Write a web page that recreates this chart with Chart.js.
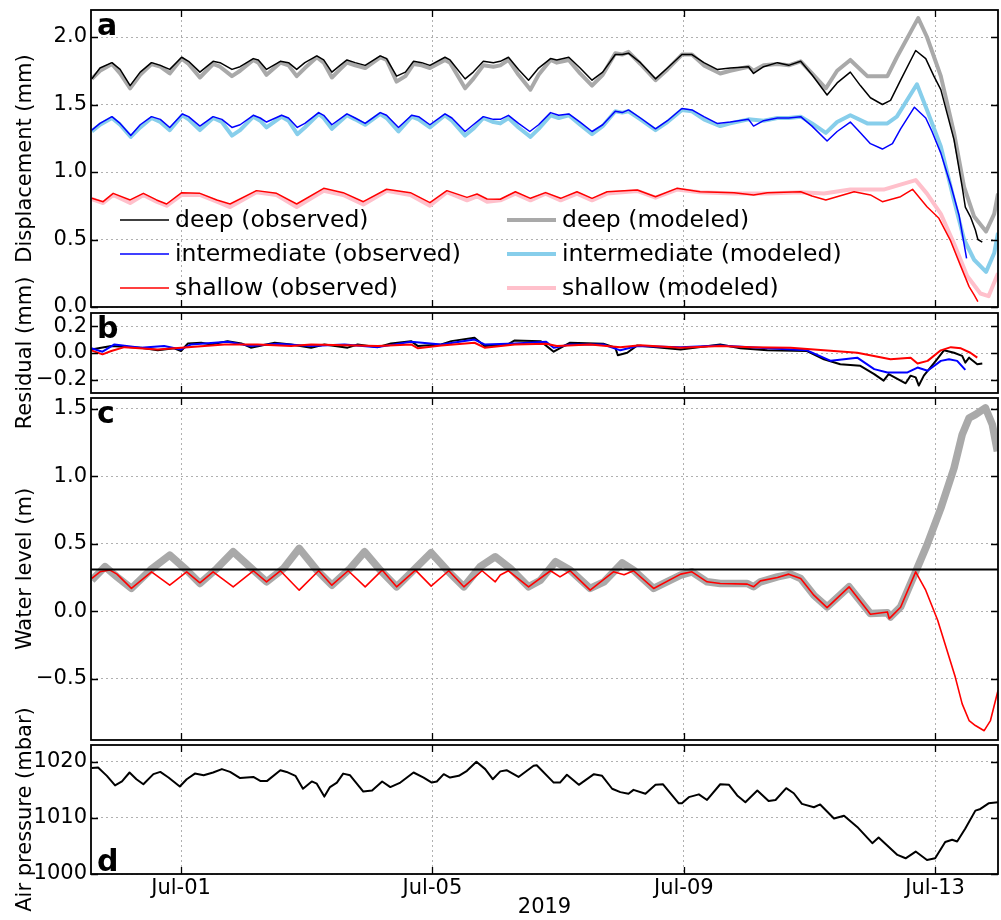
<!DOCTYPE html>
<html><head><meta charset="utf-8">
<script src="https://cdn.jsdelivr.net/npm/chart.js@4.4.1/dist/chart.umd.min.js"></script>
<style>
html,body{margin:0;padding:0;background:#fff;}
#wrap{position:relative;width:1001px;height:920px;background:#fff;}
canvas{position:absolute;left:0;top:0;}
</style></head>
<body><div id="wrap">
<canvas id="pa" width="1001" height="920"></canvas>
<canvas id="pb" width="1001" height="920"></canvas>
<canvas id="pc" width="1001" height="920"></canvas>
<canvas id="pd" width="1001" height="920"></canvas>
</div>
<script>
// ---------------- DATA (x = days since 2019-07-01 00:00) ----------------
const X_MIN = -1.433, X_MAX = 13.0;
const xTickVals = [0, 4, 8, 12];
const xTickLabels = ['Jul-01', 'Jul-05', 'Jul-09', 'Jul-13'];
const xTitle = '2019';

const dispTicks = [0, 0.5, 1, 1.5, 2];
const dispTickLabels = ['0.0', '0.5', '1.0', '1.5', '2.0'];
const resTicks = [-0.2, 0, 0.2];
const resTickLabels = ['\u22120.2', '0.0', '0.2'];
const wlTicks = [-0.5, 0, 0.5, 1, 1.5];
const wlTickLabels = ['\u22120.5', '0.0', '0.5', '1.0', '1.5'];
const apTicks = [1000, 1010, 1020];
const apTickLabels = ['1000', '1010', '1020'];

const yTitles = ['Displacement (mm)', 'Residual (mm)', 'Water level (m)', 'Air pressure (mbar)'];
const panelLetters = ['a', 'b', 'c', 'd'];
const seriesNames = ['deep (observed)', 'intermediate (observed)', 'shallow (observed)',
                     'deep (modeled)', 'intermediate (modeled)', 'shallow (modeled)'];

const deepObs = [[-1.42,1.69],[-1.29,1.77],[-1.10,1.81],[-0.97,1.76],[-0.81,1.64],[-0.65,1.74],[-0.47,1.81],[-0.33,1.79],[-0.18,1.76],[0.01,1.85],[0.12,1.82],[0.30,1.74],[0.51,1.82],[0.62,1.81],[0.81,1.76],[0.94,1.78],[1.15,1.84],[1.23,1.83],[1.36,1.76],[1.58,1.82],[1.71,1.81],[1.84,1.76],[1.97,1.81],[2.16,1.86],[2.27,1.83],[2.40,1.74],[2.53,1.79],[2.64,1.83],[2.77,1.81],[2.93,1.79],[3.17,1.86],[3.27,1.84],[3.43,1.71],[3.57,1.74],[3.70,1.82],[3.83,1.81],[3.96,1.79],[4.20,1.85],[4.28,1.83],[4.52,1.69],[4.65,1.74],[4.81,1.82],[4.97,1.81],[5.08,1.82],[5.21,1.85],[5.37,1.76],[5.53,1.68],[5.69,1.77],[5.88,1.84],[5.98,1.83],[6.17,1.85],[6.35,1.77],[6.54,1.68],[6.71,1.74],[6.91,1.87],[7.02,1.87],[7.12,1.88],[7.31,1.81],[7.55,1.69],[7.74,1.77],[7.97,1.87],[8.13,1.87],[8.32,1.81],[8.53,1.76],[8.74,1.77],[9.03,1.78],[9.11,1.73],[9.27,1.78],[9.49,1.81],[9.67,1.79],[9.86,1.82],[10.04,1.72],[10.28,1.57],[10.44,1.66],[10.65,1.74],[10.81,1.64],[10.97,1.55],[11.16,1.50],[11.29,1.53],[11.45,1.68],[11.69,1.90],[11.85,1.84],[11.98,1.71],[12.09,1.61],[12.30,1.24],[12.43,0.89],[12.48,0.74],[12.56,0.67],[12.64,0.57],[12.68,0.50],[12.75,0.48]];
const deepMod = [[-1.42,1.69],[-1.29,1.75],[-1.10,1.80],[-0.97,1.73],[-0.81,1.62],[-0.65,1.72],[-0.47,1.80],[-0.33,1.78],[-0.18,1.73],[0.01,1.84],[0.12,1.80],[0.30,1.70],[0.51,1.80],[0.62,1.78],[0.81,1.71],[0.94,1.75],[1.15,1.83],[1.23,1.81],[1.36,1.72],[1.58,1.81],[1.71,1.79],[1.84,1.71],[1.97,1.77],[2.16,1.85],[2.27,1.81],[2.40,1.70],[2.53,1.76],[2.64,1.81],[2.77,1.79],[2.93,1.77],[3.17,1.85],[3.27,1.83],[3.43,1.67],[3.57,1.71],[3.70,1.80],[3.83,1.79],[3.96,1.77],[4.20,1.83],[4.28,1.81],[4.52,1.62],[4.65,1.69],[4.81,1.79],[4.97,1.78],[5.08,1.79],[5.21,1.83],[5.37,1.72],[5.56,1.61],[5.69,1.72],[5.88,1.83],[5.98,1.81],[6.17,1.83],[6.35,1.73],[6.54,1.64],[6.71,1.72],[6.91,1.88],[7.02,1.87],[7.12,1.89],[7.31,1.80],[7.55,1.68],[7.74,1.76],[7.97,1.87],[8.13,1.87],[8.32,1.79],[8.58,1.73],[8.74,1.75],[9.03,1.78],[9.11,1.75],[9.27,1.79],[9.49,1.80],[9.67,1.79],[9.86,1.82],[10.04,1.73],[10.26,1.62],[10.44,1.75],[10.65,1.83],[10.92,1.71],[11.24,1.71],[11.39,1.85],[11.73,2.14],[11.87,2.00],[12.09,1.71],[12.30,1.29],[12.46,0.89],[12.62,0.67],[12.81,0.56],[12.94,0.69],[13.0,0.84]];
const intObs = [[-1.42,1.31],[-1.29,1.36],[-1.10,1.41],[-0.97,1.36],[-0.80,1.27],[-0.65,1.35],[-0.47,1.41],[-0.33,1.39],[-0.18,1.33],[0.02,1.43],[0.12,1.41],[0.30,1.34],[0.51,1.41],[0.65,1.39],[0.81,1.33],[0.94,1.35],[1.15,1.42],[1.26,1.40],[1.36,1.37],[1.60,1.42],[1.71,1.40],[1.85,1.33],[1.97,1.36],[2.19,1.44],[2.27,1.42],[2.40,1.35],[2.64,1.43],[2.77,1.40],[2.93,1.36],[3.17,1.44],[3.27,1.42],[3.46,1.33],[3.67,1.42],[3.78,1.41],[3.96,1.35],[4.20,1.43],[4.31,1.40],[4.52,1.30],[4.65,1.35],[4.81,1.41],[4.97,1.39],[5.08,1.39],[5.21,1.42],[5.37,1.36],[5.55,1.30],[5.69,1.35],[5.88,1.44],[6.01,1.42],[6.17,1.43],[6.35,1.37],[6.54,1.30],[6.71,1.35],[6.91,1.45],[7.02,1.44],[7.12,1.46],[7.31,1.40],[7.55,1.32],[7.74,1.38],[7.97,1.47],[8.13,1.46],[8.32,1.41],[8.53,1.36],[8.74,1.37],[9.03,1.39],[9.11,1.34],[9.27,1.38],[9.49,1.40],[9.67,1.40],[9.86,1.41],[10.04,1.34],[10.28,1.23],[10.44,1.30],[10.65,1.37],[10.81,1.29],[10.97,1.21],[11.16,1.17],[11.32,1.21],[11.45,1.32],[11.67,1.48],[11.85,1.40],[11.95,1.30],[12.09,1.14],[12.25,0.90],[12.38,0.68],[12.50,0.36]];
const intMod = [[-1.42,1.30],[-1.29,1.35],[-1.10,1.40],[-0.97,1.35],[-0.80,1.26],[-0.65,1.33],[-0.47,1.40],[-0.33,1.37],[-0.18,1.31],[0.02,1.42],[0.12,1.39],[0.30,1.31],[0.51,1.40],[0.65,1.37],[0.81,1.27],[0.94,1.31],[1.15,1.41],[1.26,1.38],[1.36,1.33],[1.60,1.41],[1.71,1.38],[1.85,1.28],[1.97,1.33],[2.19,1.43],[2.27,1.40],[2.40,1.32],[2.64,1.42],[2.77,1.39],[2.93,1.35],[3.17,1.43],[3.27,1.40],[3.46,1.30],[3.67,1.41],[3.78,1.39],[3.96,1.33],[4.20,1.42],[4.31,1.38],[4.52,1.27],[4.65,1.32],[4.81,1.40],[4.97,1.37],[5.08,1.36],[5.21,1.40],[5.37,1.33],[5.56,1.26],[5.69,1.32],[5.88,1.42],[6.01,1.40],[6.17,1.42],[6.35,1.35],[6.54,1.28],[6.71,1.34],[6.91,1.45],[7.02,1.44],[7.12,1.45],[7.31,1.39],[7.55,1.31],[7.74,1.37],[7.97,1.46],[8.13,1.45],[8.32,1.39],[8.58,1.34],[8.74,1.36],[9.03,1.39],[9.27,1.38],[9.49,1.40],[9.67,1.40],[9.86,1.41],[10.04,1.36],[10.26,1.29],[10.44,1.37],[10.65,1.42],[10.92,1.36],[11.24,1.36],[11.39,1.41],[11.71,1.65],[11.87,1.46],[12.09,1.19],[12.30,0.79],[12.46,0.50],[12.62,0.35],[12.81,0.26],[12.94,0.40],[13.0,0.55]];
const shObs = [[-1.42,0.805],[-1.24,0.780],[-1.08,0.842],[-0.81,0.793],[-0.60,0.842],[-0.39,0.793],[-0.23,0.763],[0.01,0.847],[0.30,0.842],[0.57,0.793],[0.78,0.763],[1.20,0.862],[1.52,0.842],[1.84,0.763],[2.27,0.879],[2.58,0.847],[2.90,0.780],[3.27,0.872],[3.65,0.847],[3.96,0.773],[4.23,0.862],[4.55,0.812],[4.71,0.837],[4.87,0.800],[5.08,0.798],[5.32,0.854],[5.56,0.805],[5.80,0.847],[6.04,0.805],[6.30,0.854],[6.54,0.805],[6.78,0.854],[7.26,0.867],[7.55,0.817],[7.89,0.879],[8.26,0.854],[8.80,0.847],[9.11,0.830],[9.33,0.847],[9.86,0.854],[10.04,0.822],[10.26,0.793],[10.71,0.854],[10.97,0.830],[11.16,0.780],[11.45,0.817],[11.64,0.872],[11.87,0.743],[12.06,0.657],[12.24,0.496],[12.41,0.299],[12.54,0.151],[12.62,0.089],[12.68,0.04]];
const shMod = [[-1.42,0.80],[-1.24,0.77],[-1.08,0.83],[-0.81,0.77],[-0.60,0.83],[-0.39,0.78],[-0.23,0.75],[0.01,0.83],[0.30,0.83],[0.57,0.78],[0.78,0.74],[1.20,0.85],[1.52,0.83],[1.84,0.74],[2.27,0.86],[2.58,0.83],[2.90,0.76],[3.27,0.86],[3.65,0.83],[3.96,0.75],[4.23,0.85],[4.55,0.79],[4.71,0.82],[4.87,0.78],[5.08,0.79],[5.32,0.84],[5.56,0.79],[5.80,0.84],[6.04,0.79],[6.30,0.84],[6.54,0.79],[6.78,0.84],[7.26,0.86],[7.55,0.81],[7.89,0.87],[8.26,0.85],[8.80,0.84],[9.33,0.84],[9.86,0.85],[10.23,0.84],[10.65,0.87],[11.18,0.87],[11.69,0.94],[11.87,0.84],[12.09,0.69],[12.30,0.47],[12.51,0.23],[12.72,0.10],[12.85,0.08],[13.0,0.25]];

const resDeep = [[-1.43,0.027],[-1.11,0.052],[-0.64,0.040],[-0.37,0.020],[-0.11,0.035],[0.0,0.015],[0.11,0.072],[0.32,0.077],[0.48,0.064],[0.74,0.089],[0.96,0.072],[1.11,0.040],[1.49,0.077],[1.75,0.064],[2.07,0.040],[2.28,0.064],[2.65,0.040],[2.81,0.064],[3.13,0.044],[3.34,0.072],[3.66,0.089],[3.77,0.052],[4.14,0.064],[4.30,0.089],[4.67,0.114],[4.83,0.052],[5.20,0.064],[5.31,0.094],[5.72,0.089],[5.93,0.010],[6.19,0.077],[6.72,0.069],[6.91,0.040],[6.95,-0.017],[7.10,0.002],[7.26,0.057],[7.95,0.027],[8.58,0.064],[8.90,0.035],[9.33,0.020],[9.96,0.015],[10.23,-0.047],[10.49,-0.084],[10.81,-0.096],[11.03,-0.158],[11.18,-0.207],[11.26,-0.158],[11.53,-0.227],[11.61,-0.170],[11.69,-0.183],[11.74,-0.244],[11.82,-0.170],[12.01,-0.059],[12.14,0.020],[12.30,0.002],[12.43,-0.022],[12.48,-0.072],[12.54,-0.035],[12.67,-0.084],[12.75,-0.079]];
const resInt = [[-1.43,0.035],[-1.25,0.010],[-1.06,0.064],[-0.64,0.040],[-0.27,0.052],[0.0,0.027],[0.16,0.064],[0.74,0.084],[1.11,0.052],[1.54,0.069],[2.07,0.052],[2.60,0.064],[3.13,0.044],[3.66,0.084],[4.14,0.064],[4.67,0.101],[4.83,0.064],[5.31,0.072],[5.81,0.084],[5.93,0.040],[6.19,0.064],[6.72,0.064],[6.99,0.020],[7.26,0.052],[7.95,0.044],[8.58,0.057],[9.33,0.035],[9.96,0.020],[10.34,-0.059],[10.76,-0.035],[11.03,-0.121],[11.24,-0.146],[11.56,-0.146],[11.72,-0.109],[11.88,-0.133],[12.09,-0.059],[12.22,-0.047],[12.35,-0.059],[12.48,-0.126]];
const resSh = [[-1.43,0.020],[-1.25,-0.010],[-1.11,0.015],[-0.90,0.044],[-0.37,0.027],[0.11,0.044],[0.69,0.064],[1.22,0.064],[1.75,0.052],[2.07,0.064],[2.60,0.059],[3.13,0.052],[3.66,0.064],[3.77,0.035],[4.14,0.057],[4.67,0.077],[4.83,0.040],[5.31,0.064],[5.81,0.069],[5.98,0.052],[6.51,0.064],[6.99,0.044],[7.31,0.059],[7.95,0.040],[8.58,0.052],[9.06,0.044],[9.70,0.040],[10.23,0.020],[10.76,0.002],[11.29,-0.047],[11.61,-0.035],[11.72,-0.079],[11.88,-0.059],[12.09,0.020],[12.25,0.044],[12.41,0.035],[12.56,0.002],[12.67,-0.035]];

const wlModeled = [[-1.42,0.230],[-1.21,0.330],[-1.02,0.255],[-0.79,0.169],[-0.49,0.305],[-0.18,0.416],[0.09,0.305],[0.30,0.206],[0.57,0.317],[0.83,0.441],[1.15,0.305],[1.36,0.218],[1.63,0.317],[1.88,0.466],[2.16,0.305],[2.40,0.193],[2.69,0.317],[2.92,0.441],[3.17,0.305],[3.43,0.181],[3.70,0.305],[3.98,0.434],[4.23,0.305],[4.50,0.181],[4.76,0.330],[5.00,0.404],[5.24,0.317],[5.53,0.181],[5.72,0.230],[5.96,0.367],[6.19,0.305],[6.51,0.169],[6.73,0.218],[7.02,0.359],[7.20,0.305],[7.52,0.169],[7.73,0.218],[7.95,0.268],[8.13,0.292],[8.37,0.218],[8.58,0.206],[9.01,0.206],[9.11,0.181],[9.22,0.218],[9.49,0.255],[9.70,0.275],[9.86,0.243],[10.07,0.119],[10.28,0.032],[10.63,0.181],[10.97,-0.017],[11.24,-0.012],[11.29,-0.042],[11.45,0.032],[11.69,0.292],[11.87,0.491],[12.09,0.763],[12.30,1.061],[12.43,1.309],[12.54,1.432],[12.64,1.457],[12.80,1.507],[12.91,1.383],[12.99,1.185]];
const wlObserved = [[-1.42,0.243],[-1.29,0.292],[-1.13,0.305],[-1.02,0.275],[-0.79,0.169],[-0.47,0.292],[-0.18,0.193],[0.09,0.292],[0.30,0.211],[0.51,0.292],[0.83,0.181],[1.15,0.300],[1.36,0.218],[1.58,0.300],[1.88,0.156],[2.19,0.300],[2.40,0.193],[2.66,0.300],[2.93,0.181],[3.20,0.305],[3.43,0.181],[3.73,0.305],[3.98,0.186],[4.26,0.300],[4.50,0.181],[4.79,0.300],[5.00,0.218],[5.08,0.268],[5.21,0.300],[5.53,0.181],[5.88,0.300],[6.03,0.255],[6.19,0.300],[6.51,0.156],[6.88,0.292],[7.05,0.270],[7.20,0.300],[7.52,0.169],[7.95,0.275],[8.13,0.292],[8.37,0.218],[8.58,0.206],[9.01,0.201],[9.11,0.181],[9.22,0.225],[9.49,0.250],[9.67,0.275],[9.86,0.243],[10.07,0.119],[10.28,0.027],[10.63,0.181],[10.97,-0.022],[11.24,-0.005],[11.27,-0.055],[11.45,0.030],[11.69,0.292],[11.85,0.156],[12.04,-0.067],[12.14,-0.216],[12.32,-0.488],[12.43,-0.686],[12.54,-0.810],[12.64,-0.847],[12.78,-0.885],[12.88,-0.810],[13.0,-0.587]];
const wlReference = 0.31;

const airPressure = [[-1.42,1018.9],[-1.32,1019.0],[-1.18,1017.5],[-1.05,1015.8],[-0.94,1016.5],[-0.82,1018.1],[-0.71,1016.9],[-0.60,1016.0],[-0.44,1017.8],[-0.33,1018.2],[-0.20,1017.2],[-0.02,1015.6],[0.09,1016.9],[0.22,1017.9],[0.36,1017.6],[0.51,1018.1],[0.65,1018.7],[0.78,1018.2],[0.94,1017.1],[1.15,1017.3],[1.26,1016.6],[1.37,1016.6],[1.58,1018.5],[1.68,1018.2],[1.82,1017.5],[1.94,1015.2],[2.08,1016.5],[2.16,1016.1],[2.28,1013.8],[2.37,1015.5],[2.48,1016.3],[2.58,1017.9],[2.69,1017.6],[2.90,1014.7],[3.04,1014.9],[3.20,1016.5],[3.33,1015.5],[3.49,1016.3],[3.70,1018.1],[3.86,1017.2],[3.99,1016.3],[4.07,1016.5],[4.18,1017.8],[4.28,1017.2],[4.42,1017.5],[4.55,1018.4],[4.70,1020.0],[4.84,1018.7],[4.96,1016.9],[5.08,1018.3],[5.18,1018.5],[5.37,1017.3],[5.61,1019.3],[5.66,1019.4],[5.93,1016.3],[6.03,1016.3],[6.14,1017.7],[6.33,1015.9],[6.57,1017.8],[6.70,1017.5],[6.86,1015.2],[6.99,1014.6],[7.12,1014.3],[7.20,1015.0],[7.39,1014.3],[7.55,1015.9],[7.67,1016.0],[7.92,1012.6],[7.97,1012.6],[8.08,1013.7],[8.24,1014.2],[8.37,1013.2],[8.58,1016.0],[8.72,1015.9],[8.85,1014.0],[8.98,1012.8],[9.17,1014.9],[9.35,1013.0],[9.46,1013.2],[9.63,1015.3],[9.75,1014.4],[9.88,1012.5],[10.07,1011.9],[10.17,1012.4],[10.39,1009.9],[10.55,1010.4],[10.76,1008.4],[11.00,1005.5],[11.10,1006.5],[11.40,1003.4],[11.53,1002.8],[11.69,1004.0],[11.87,1002.5],[12.00,1002.8],[12.16,1005.7],[12.27,1006.1],[12.35,1005.8],[12.48,1008.1],[12.64,1011.3],[12.72,1011.6],[12.85,1012.6],[13.0,1012.8]];

// ---------------- STYLE ----------------
const FONT = '"DejaVu Sans", "Liberation Sans", sans-serif';
Chart.defaults.font.family = FONT;
Chart.defaults.font.size = 21;
Chart.defaults.color = '#000';
const GRID = '#b0b0b0';
const C = {deep:'#000000', inter:'#0000ff', shal:'#ff0000', deepM:'#a9a9a9', interM:'#87ceeb', shalM:'#ffc0cb'};

const pts = a => a.map(p => ({x: p[0], y: p[1]}));
// Chart.js paints the first dataset last (on top); "z" is used as the explicit order weight
const line = (data, color, width, z) => ({data: pts(data), borderColor: color, backgroundColor: color,
  borderWidth: width, pointRadius: 0, tension: 0, fill: false, borderJoinStyle: 'round', borderCapStyle: 'butt', order: z});

function decorFor(cfg) {
  return {
    id: 'decor',
    afterDraw(chart) {
      const ctx = chart.ctx;
      const {left, right, top, bottom} = chart.chartArea;
      const xs = chart.scales.x, ys = chart.scales.y;
      ctx.save();
      ctx.strokeStyle = '#000'; ctx.lineWidth = 1.3;
      ctx.beginPath();
      xs.ticks.forEach(t => { const p = Math.round(xs.getPixelForValue(t.value)) + 0.5;
        ctx.moveTo(p, top); ctx.lineTo(p, top + 7); ctx.moveTo(p, bottom); ctx.lineTo(p, bottom - 7); });
      ys.ticks.forEach(t => { const p = Math.round(ys.getPixelForValue(t.value)) + 0.5;
        ctx.moveTo(left, p); ctx.lineTo(left + 7, p); ctx.moveTo(right, p); ctx.lineTo(right - 7, p); });
      ctx.stroke();
      ctx.lineWidth = 1.8;
      ctx.strokeRect(left, top, right - left, bottom - top);
      ctx.fillStyle = '#000';
      ctx.font = 'bold 30px ' + FONT;
      ctx.textAlign = 'left'; ctx.textBaseline = 'alphabetic';
      ctx.fillText(cfg.letter, left + 6, cfg.letterBottom ? bottom - 3 : top + 25);
      ctx.font = '21px ' + FONT;
      ctx.translate(31, (top + bottom) / 2);
      ctx.rotate(-Math.PI / 2);
      ctx.textAlign = 'center';
      ctx.fillText(cfg.yTitle, 0, 0);
      ctx.restore();
      if (cfg.legend) {
        ctx.save();
        ctx.font = '23.5px ' + FONT;
        ctx.textBaseline = 'middle'; ctx.textAlign = 'left'; ctx.fillStyle = '#000';
        cfg.legend.forEach((it, i) => {
          const col = Math.floor(i / 3), row = i % 3;
          const lx = col === 0 ? left + 29 : left + 416;
          const ly = top + 210 + row * 34;
          ctx.strokeStyle = it.color; ctx.lineWidth = it.width;
          ctx.beginPath(); ctx.moveTo(lx, ly); ctx.lineTo(lx + 49, ly); ctx.stroke();
          ctx.fillText(it.label, lx + 55, ly + 1);
        });
        ctx.restore();
      }
    }
  };
}

function makePanel(id, cfg) {
  const showX = !!cfg.showX;
  return new Chart(document.getElementById(id), {
    type: 'line',
    data: {datasets: cfg.datasets},
    options: {
      responsive: false, animation: false, events: [],
      layout: {padding: {left: 0, right: 3, top: cfg.top, bottom: showX ? 920 - cfg.bottom - 46 : 920 - cfg.bottom}},
      plugins: {legend: {display: false}, tooltip: {enabled: false}},
      scales: {
        x: {type: 'linear', min: X_MIN, max: X_MAX,
          afterBuildTicks: s => { s.ticks = xTickVals.map(v => ({value: v})); },
          afterFit: s => { s.height = showX ? 46 : 0; s.paddingLeft = 0; s.paddingRight = 0; },
          ticks: {display: showX, autoSkip: false, maxRotation: 0, padding: 2, color: '#000',
                  font: {size: 21}, callback: (v, i) => xTickLabels[i]},
          grid: {color: GRID, lineWidth: 1, drawTicks: false},
          border: {display: false, dash: [2, 3]},
          title: {display: showX, text: xTitle, color: '#000', font: {size: 21}, padding: {top: 0, bottom: 0}}
        },
        y: {type: 'linear', min: cfg.ymin, max: cfg.ymax,
          afterBuildTicks: s => { s.ticks = cfg.yticks.map(v => ({value: v})); },
          afterFit: s => { s.width = 91; s.paddingTop = 0; s.paddingBottom = 0; },
          ticks: {autoSkip: false, padding: 4, color: '#000', font: {size: 21}, callback: (v, i) => cfg.ylabels[i]},
          grid: {color: GRID, lineWidth: 1, drawTicks: false},
          border: {display: false, dash: [2, 3]}
        }
      }
    },
    plugins: [decorFor(cfg)]
  });
}

// panel a : observed lines painted above the thick modeled lines
makePanel('pa', {
  top: 10, bottom: 307, ymin: 0, ymax: 2.2, yticks: dispTicks, ylabels: dispTickLabels,
  yTitle: yTitles[0], letter: panelLetters[0],
  datasets: [
    line(deepObs, C.deep, 1.5, 1), line(intObs, C.inter, 1.5, 1), line(shObs, C.shal, 1.5, 1),
    line(deepMod, C.deepM, 4, 2), line(intMod, C.interM, 4, 2), line(shMod, C.shalM, 4, 2)
  ],
  legend: [
    {label: seriesNames[0], color: C.deep, width: 1.5},
    {label: seriesNames[1], color: C.inter, width: 1.5},
    {label: seriesNames[2], color: C.shal, width: 1.5},
    {label: seriesNames[3], color: C.deepM, width: 4},
    {label: seriesNames[4], color: C.interM, width: 4},
    {label: seriesNames[5], color: C.shalM, width: 4}
  ]
});
// panel b
makePanel('pb', {
  top: 313, bottom: 393, ymin: -0.3, ymax: 0.3, yticks: resTicks, ylabels: resTickLabels,
  yTitle: yTitles[1], letter: panelLetters[1],
  datasets: [line(resDeep, C.deep, 2, 3), line(resInt, C.inter, 2, 2), line(resSh, C.shal, 2, 1)]
});
// panel c
makePanel('pc', {
  top: 398, bottom: 740, ymin: -0.954, ymax: 1.58, yticks: wlTicks, ylabels: wlTickLabels,
  yTitle: yTitles[2], letter: panelLetters[2],
  datasets: [
    line(wlModeled, C.deepM, 7.5, 3),
    line([[X_MIN, wlReference], [X_MAX, wlReference]], '#000', 2, 1),
    line(wlObserved, C.shal, 1.6, 2)
  ]
});
// panel d
makePanel('pd', {
  top: 745, bottom: 874, ymin: 1000, ymax: 1023, yticks: apTicks, ylabels: apTickLabels,
  yTitle: yTitles[3], letter: panelLetters[3], letterBottom: true, showX: true,
  datasets: [line(airPressure, '#000', 2, 1)]
});
</script>
</body></html>
